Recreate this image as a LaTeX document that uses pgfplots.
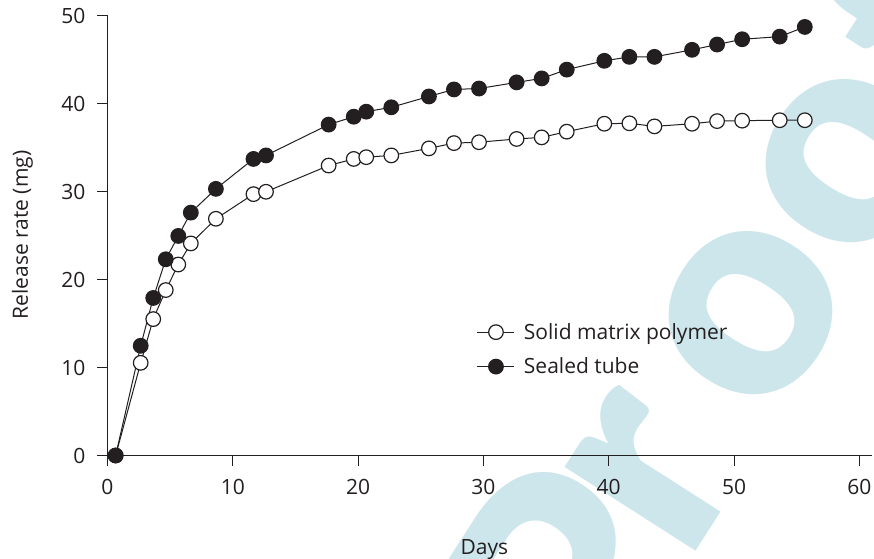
\documentclass[border=0pt]{standalone}
\usepackage{fontspec}
\setmainfont{Open Sans}
\IfFontExistsTF{Lato Black}
  {\newfontfamily\wmfont{Lato Black}\def\wmsize{300}}
  {\newfontfamily\wmfont{DejaVu Sans Bold}\def\wmsize{280}}
\usepackage{pgfplots}
\usepackage{pgfplotstable}
\pgfplotsset{compat=1.18}
\definecolor{ink}{HTML}{231F20}
\definecolor{wm}{RGB}{205,230,236}
\newcommand\chf{\fontsize{21}{25}\selectfont}

\pgfplotstableread{
x y
0.65 0
2.65 10.53
3.65 15.5
4.65 18.8
5.65 21.7
6.65 24.1
8.65 26.9
11.65 29.7
12.65 29.97
17.65 32.95
19.65 33.7
20.65 33.9
22.65 34.1
25.65 34.9
27.65 35.5
29.65 35.6
32.65 35.97
34.65 36.15
36.65 36.8
39.65 37.7
41.65 37.75
43.65 37.4
46.65 37.7
48.65 38.0
50.65 38.05
53.65 38.1
55.65 38.1
}\solid

\pgfplotstableread{
x y
0.65 0
2.65 12.47
3.65 17.9
4.65 22.3
5.65 24.95
6.65 27.6
8.65 30.3
11.65 33.7
12.65 34.1
17.65 37.6
19.65 38.5
20.65 39.07
22.65 39.57
25.65 40.8
27.65 41.6
29.65 41.7
32.65 42.4
34.65 42.85
36.65 43.85
39.65 44.85
41.65 45.3
43.65 45.3
46.65 46.1
48.65 46.7
50.65 47.3
53.65 47.6
55.65 48.7
}\sealed

\begin{document}
\begin{tikzpicture}
\useasboundingbox (0,0) rectangle (874pt,558pt);
\begin{scope}
\clip (0,0) rectangle (874pt,558pt);
\tikzset{wml/.style={rotate=57.4, inner sep=0pt, text=wm, font=\wmfont\fontsize{\wmsize}{\wmsize}\selectfont}}
\node[wml] at (751pt,245pt) {o};
\node[wml] at (848pt,397pt) {o};
\node[wml] at (652pt,84pt) {r};
\node[wml] at (565pt,-23pt) {P};
\node[wml] at (909pt,539pt) {f};
\end{scope}
\begin{axis}[
  anchor=origin, at={(107.5pt,102.5pt)},
  x=12.53pt, y=8.8pt,
  xmin=0, xmax=61, ymin=0, ymax=50,
  clip=false,
  axis lines=left,
  axis line style={-, draw=ink, line width=1pt},
  tick align=outside,
  major tick length=10pt,
  tick style={draw=ink, line width=1pt},
  xtick={0,10,...,60}, ytick={0,10,...,50},
  minor tick num=0,
  /pgf/number format/assume math mode=true,
  tick label style={font=\chf, text=ink, inner sep=0pt},
  xticklabel style={anchor=north, yshift=-13.5pt},
  yticklabel style={anchor=east, xshift=-12pt},
  xlabel={Days}, ylabel={Release rate (mg)},
  every axis x label/.style={at={(axis cs:30.08,-11.2)}, anchor=base, font=\chf, text=ink, inner sep=0pt},
  every axis y label/.style={at={(axis cs:-6.345,25.06)}, anchor=base, rotate=90, font=\chf, text=ink, inner sep=0pt},
  legend cell align=left,
  legend image code/.code={\draw[mark repeat=2,mark phase=2,#1] plot coordinates {(0pt,0pt)(18.5pt,0pt)(37pt,0pt)};},
  legend style={at={(axis cs:29.47,12.06)}, anchor=west, draw=none, fill=none,
    inner sep=0pt, font=\chf, text=ink, row sep=17pt,
    nodes={inner sep=0pt},
    /tikz/every odd column/.append style={column sep=9pt}},
]
\addplot[draw=ink, line width=1pt, mark=*, mark size=7.3pt,
  mark options={fill=white, draw=ink, line width=1.2pt}] table[x=x,y=y] {\solid};
\addlegendentry{Solid matrix polymer}
\addplot[draw=ink, line width=1pt, mark=*, mark size=7.3pt,
  mark options={fill=ink, draw=ink, line width=1.2pt}] table[x=x,y=y] {\sealed};
\addlegendentry{Sealed tube}
\end{axis}
\end{tikzpicture}
\end{document}
